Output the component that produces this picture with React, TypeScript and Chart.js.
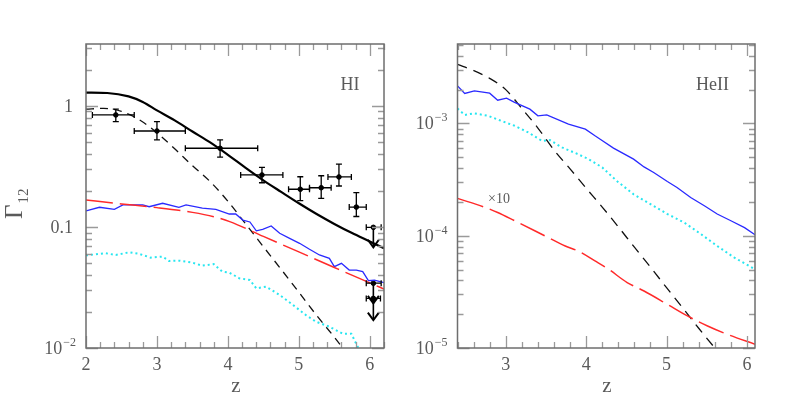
import React, { useEffect, useRef } from 'react';
import { Chart, registerables } from 'chart.js';
Chart.register(...registerables);

// ---------- HI panel data ----------
const hiSolidZ = [2.0, 2.3, 2.6, 2.8, 3.0, 3.25, 3.5, 3.75, 4.0, 4.25, 4.5, 4.75, 5.0, 5.25, 5.5, 5.75, 6.0, 6.2];
const hiSolidV = [1.29, 1.28, 1.2, 1.08, 0.92, 0.76, 0.615, 0.5, 0.395, 0.308, 0.243, 0.195, 0.157, 0.128, 0.106, 0.089, 0.076, 0.0667];

const hiDashZ = [2.0, 2.25, 2.5, 2.75, 3.0, 3.25, 3.5, 3.75, 4.0, 4.25, 4.5, 4.75, 5.0, 5.25, 5.5, 5.75];
const hiDashV = [0.94, 0.955, 0.9, 0.77, 0.6, 0.443, 0.321, 0.237, 0.163, 0.106, 0.0687, 0.0447, 0.0289, 0.0186, 0.0123, 0.0079];

const hiBlueZ = [2.0, 2.19, 2.4, 2.52, 2.8, 2.89, 3.08, 3.31, 3.41, 3.64, 3.83, 4.02, 4.11, 4.21, 4.31, 4.4, 4.49, 4.61, 4.73, 4.87, 5.01, 5.15, 5.29, 5.43, 5.5, 5.6, 5.71, 5.81, 5.9, 5.98, 6.065, 6.2];
const hiBlueV = [0.136, 0.1455, 0.14, 0.152, 0.152, 0.147, 0.157, 0.1455, 0.152, 0.143, 0.14, 0.128, 0.128, 0.114, 0.11, 0.093, 0.0957, 0.102, 0.0887, 0.0806, 0.0733, 0.0654, 0.0587, 0.0551, 0.047, 0.0501, 0.0441, 0.044, 0.0428, 0.036, 0.0363, 0.0347];

const hiRedZ = [2.0, 2.5, 3.0, 3.5, 3.8, 4.025, 4.5, 5.0, 5.5, 6.0, 6.2];
const hiRedV = [0.167, 0.155, 0.1445, 0.132, 0.1216, 0.1107, 0.0836, 0.0622, 0.0463, 0.0345, 0.0307];

const hiCyanZ = [2.0, 2.28, 2.42, 2.61, 2.75, 2.91, 3.08, 3.17, 3.31, 3.5, 3.64, 3.8, 3.92, 4.02, 4.16, 4.31, 4.4, 4.54, 4.73, 4.92, 5.1, 5.24, 5.43, 5.62, 5.74, 5.83, 5.9];
const hiCyanV = [0.0583, 0.0606, 0.0587, 0.0618, 0.06, 0.0558, 0.0569, 0.0524, 0.0527, 0.0507, 0.0479, 0.0494, 0.0428, 0.042, 0.0377, 0.0365, 0.0311, 0.0321, 0.0274, 0.0226, 0.0187, 0.0165, 0.015, 0.0131, 0.0131, 0.0102, 0.0095];

// measurements with error bars
const obsZ = [2.42, 3.0, 3.89, 4.48, 5.02, 5.315, 5.565, 5.81];
const obsV = [0.843, 0.621, 0.447, 0.269, 0.205, 0.211, 0.259, 0.146];
const obsZLo = [2.09, 2.68, 3.4, 4.18, 4.855, 5.15, 5.41, 5.71];
const obsZHi = [2.68, 3.4, 4.42, 4.775, 5.15, 5.455, 5.74, 5.95];
const obsVLo = [0.742, 0.524, 0.377, 0.232, 0.165, 0.172, 0.218, 0.122];
const obsVHi = [0.94, 0.742, 0.524, 0.311, 0.26, 0.265, 0.33, 0.192];

// upper limits
const limZ = [6.05, 6.05, 6.05];
const limV = [0.0993, 0.0343, 0.0257];
const limTo = [0.068, 0.0234, 0.017];
const limZLo = [5.95, 5.95, 5.95];
const limZHi = [6.16, 6.16, 6.15];

// ---------- HeII panel data ----------
const heDashZ = [2.4, 2.6, 2.8, 3.0, 3.2, 3.4, 3.6, 3.8, 4.0, 4.2, 4.4, 4.6, 4.8, 5.0, 5.2, 5.4, 5.6, 5.7];
const heDashV = [3.36e-3, 2.96e-3, 2.52e-3, 2.0e-3, 1.36e-3, 9.1e-4, 5.8e-4, 3.94e-4, 2.65e-4, 1.8e-4, 1.2e-4, 7.9e-5, 5.25e-5, 3.45e-5, 2.28e-5, 1.5e-5, 1.0e-5, 8.2e-6];

const heBlueZ = [2.4, 2.49, 2.61, 2.8, 2.9, 3.01, 3.11, 3.3, 3.4, 3.51, 3.78, 3.99, 4.11, 4.175, 4.34, 4.59, 4.72, 4.84, 5.01, 5.13, 5.3, 5.47, 5.63, 5.8, 5.97, 6.1];
const heBlueV = [2.16e-3, 1.85e-3, 1.95e-3, 1.86e-3, 1.61e-3, 1.68e-3, 1.54e-3, 1.34e-3, 1.17e-3, 1.19e-3, 9.86e-4, 8.89e-4, 7.76e-4, 7.24e-4, 6.03e-4, 4.81e-4, 4.1e-4, 3.66e-4, 3.04e-4, 2.69e-4, 2.19e-4, 1.85e-4, 1.56e-4, 1.36e-4, 1.18e-4, 1.02e-4];

const heCyanZ = [2.4, 2.49, 2.61, 2.78, 2.95, 3.11, 3.28, 3.45, 3.55, 3.7, 3.9, 4.03, 4.2, 4.38, 4.59, 4.8, 5.01, 5.22, 5.43, 5.63, 5.84, 6.1];
const heCyanV = [1.36e-3, 1.19e-3, 1.23e-3, 1.17e-3, 1.05e-3, 9.53e-4, 8.32e-4, 7.0e-4, 7.1e-4, 6.11e-4, 5.32e-4, 4.81e-4, 4.06e-4, 3.08e-4, 2.34e-4, 1.91e-4, 1.56e-4, 1.31e-4, 1.03e-4, 8.1e-5, 6.4e-5, 5.02e-5];

const heRedZ = [2.4, 2.75, 2.9, 3.11, 3.49, 3.74, 3.9, 4.11, 4.28, 4.51, 4.72, 5.01, 5.26, 5.51, 5.76, 6.1];
const heRedV = [2.15e-4, 1.78e-4, 1.61e-4, 1.36e-4, 9.95e-5, 8.1e-5, 7.31e-5, 5.96e-5, 5.02e-5, 3.83e-5, 3.22e-5, 2.45e-5, 1.93e-5, 1.57e-5, 1.32e-5, 1.08e-5];

// ---------- axis ticks / labels ----------
const hiXTicks = [2, 3, 4, 5, 6];
const hiYTicks = [1, 0.1, 0.01];
const hiYLabels = ['1', '0.1', '10^-2'];
const heXTicks = [3, 4, 5, 6];
const heYTicks = [1e-3, 1e-4, 1e-5];
const heYLabels = ['10^-3', '10^-4', '10^-5'];

const FONT = '"Liberation Serif", "DejaVu Serif", serif';
const TEXT = '#5a5a5a';
const FRAME = '#6e6e6e';
const TICK = '#9a9a9a';

const pts = (zs: number[], vs: number[]) => zs.map((z, i) => ({ x: z, y: vs[i] }));

type Extra = {
  xTicks: number[];
  yTicks: number[];
  yLabels: string[];
  texts: { t: string; x: number; y: number; size: number; align: CanvasTextAlign }[];
  gamma?: boolean;
  obs?: boolean;
};

function drawLabel(ctx: CanvasRenderingContext2D, label: string, xRight: number, yMid: number) {
  if (label.startsWith('10^')) {
    const exp = label.slice(3).replace('-', '\u2212');
    ctx.font = `12px ${FONT}`;
    const we = ctx.measureText(exp).width;
    ctx.font = `18px ${FONT}`;
    const wb = ctx.measureText('10').width;
    ctx.textAlign = 'left';
    ctx.textBaseline = 'alphabetic';
    ctx.fillText('10', xRight - we - wb - 1, yMid + 6);
    ctx.font = `12px ${FONT}`;
    ctx.fillText(exp, xRight - we, yMid - 2);
  } else {
    ctx.font = `18px ${FONT}`;
    ctx.textAlign = 'right';
    ctx.textBaseline = 'alphabetic';
    ctx.fillText(label, xRight - 3, yMid + 6);
  }
}

function makePlugin(ex: Extra) {
  return {
    id: 'frameTicks',
    afterDatasetsDraw(chart: any) {
      const { ctx, chartArea: a, scales } = chart;
      const xs = scales.x;
      const ys = scales.y;
      ctx.save();
      // error bars and upper limits
      if (ex.obs) {
        ctx.strokeStyle = '#000';
        ctx.lineWidth = 1.3;
        const cap = 3;
        obsZ.forEach((z, i) => {
          const px = xs.getPixelForValue(z);
          const py = ys.getPixelForValue(obsV[i]);
          const x0 = xs.getPixelForValue(obsZLo[i]);
          const x1 = xs.getPixelForValue(obsZHi[i]);
          const y0 = ys.getPixelForValue(obsVLo[i]);
          const y1 = ys.getPixelForValue(obsVHi[i]);
          ctx.beginPath();
          ctx.moveTo(x0, py); ctx.lineTo(x1, py);
          ctx.moveTo(x0, py - cap); ctx.lineTo(x0, py + cap);
          ctx.moveTo(x1, py - cap); ctx.lineTo(x1, py + cap);
          ctx.moveTo(px, y0); ctx.lineTo(px, y1);
          ctx.moveTo(px - cap, y0); ctx.lineTo(px + cap, y0);
          ctx.moveTo(px - cap, y1); ctx.lineTo(px + cap, y1);
          ctx.stroke();
        });
        limZ.forEach((z, i) => {
          const px = xs.getPixelForValue(z);
          const py = ys.getPixelForValue(limV[i]);
          const x0 = xs.getPixelForValue(limZLo[i]);
          const x1 = xs.getPixelForValue(limZHi[i]);
          const ty = ys.getPixelForValue(limTo[i]);
          ctx.lineWidth = 1.3;
          ctx.beginPath();
          ctx.moveTo(x0, py); ctx.lineTo(x1, py);
          ctx.moveTo(x0, py - cap); ctx.lineTo(x0, py + cap);
          ctx.moveTo(x1, py - cap); ctx.lineTo(x1, py + cap);
          ctx.stroke();
          ctx.lineWidth = 1.6;
          ctx.beginPath();
          ctx.moveTo(px, py); ctx.lineTo(px, ty);
          ctx.stroke();
          ctx.lineWidth = 2;
          ctx.beginPath();
          ctx.moveTo(px - 5.5, ty - 7.5); ctx.lineTo(px, ty); ctx.lineTo(px + 5.5, ty - 7.5);
          ctx.stroke();
        });
      }
      // ticks
      ctx.strokeStyle = TICK;
      ctx.lineWidth = 1.3;
      ctx.beginPath();
      const step = 0.2;
      for (let k = Math.ceil(xs.min / step - 1e-6); k * step <= xs.max + 1e-6; k++) {
        const v = k * step;
        const major = Math.abs(v - Math.round(v)) < 1e-6;
        const len = major ? 12 : 6;
        const px = Math.round(xs.getPixelForValue(v)) + 0.5;
        ctx.moveTo(px, a.bottom); ctx.lineTo(px, a.bottom - len);
        ctx.moveTo(px, a.top); ctx.lineTo(px, a.top + len);
      }
      const d0 = Math.floor(Math.log10(ys.min)) - 1;
      const d1 = Math.ceil(Math.log10(ys.max)) + 1;
      for (let d = d0; d <= d1; d++) {
        for (let m = 1; m <= 9; m++) {
          const v = m * Math.pow(10, d);
          if (v < ys.min * 0.999 || v > ys.max * 1.001) continue;
          const len = m === 1 ? 12 : 6;
          const py = Math.round(ys.getPixelForValue(v)) + 0.5;
          ctx.moveTo(a.left, py); ctx.lineTo(a.left + len, py);
          ctx.moveTo(a.right, py); ctx.lineTo(a.right - len, py);
        }
      }
      ctx.stroke();
      // frame
      ctx.strokeStyle = FRAME;
      ctx.lineWidth = 1.5;
      ctx.strokeRect(a.left, a.top, a.right - a.left, a.bottom - a.top);
      // tick labels
      ctx.fillStyle = TEXT;
      ex.xTicks.forEach((v) => {
        ctx.font = `18px ${FONT}`;
        ctx.textAlign = 'center';
        ctx.textBaseline = 'alphabetic';
        ctx.fillText(String(v), xs.getPixelForValue(v), a.bottom + 22);
      });
      ex.yTicks.forEach((v, i) => {
        drawLabel(ctx, ex.yLabels[i], a.left - 10, ys.getPixelForValue(v));
      });
      // free texts
      ex.texts.forEach((t) => {
        ctx.font = `${t.size}px ${FONT}`;
        ctx.textAlign = t.align;
        ctx.textBaseline = 'alphabetic';
        ctx.fillText(t.t, t.x, t.y);
      });
      if (ex.gamma) {
        ctx.save();
        ctx.translate(22, 219);
        ctx.rotate(-Math.PI / 2);
        ctx.font = `25px ${FONT}`;
        ctx.textAlign = 'left';
        ctx.fillText('\u0393', 0, 0);
        const w = ctx.measureText('\u0393').width;
        ctx.font = `15px ${FONT}`;
        ctx.fillText('12', w + 1, 6);
        ctx.restore();
      }
      ctx.restore();
    },
  };
}

function Panel(props: { left: number; width: number; config: () => any }) {
  const ref = useRef<HTMLCanvasElement>(null);
  useEffect(() => {
    const chart = new Chart(ref.current as HTMLCanvasElement, props.config());
    return () => chart.destroy();
  }, []);
  return (
    <canvas
      ref={ref}
      width={props.width}
      height={399}
      style={{ position: 'absolute', left: props.left, top: 0, width: props.width, height: 399 }}
    />
  );
}

const baseOpts = (xmin: number, xmax: number, ymin: number, ymax: number, pad: any) => ({
  responsive: false,
  animation: false,
  layout: { padding: pad },
  plugins: { legend: { display: false }, tooltip: { enabled: false } },
  elements: { point: { radius: 0 } },
  scales: {
    x: { type: 'linear', min: xmin, max: xmax, display: false },
    y: { type: 'logarithmic', min: ymin, max: ymax, display: false },
  },
});

const line = (data: any[], color: string, width: number, dash: number[], smooth = false) => ({
  type: 'line',
  data,
  borderColor: color,
  borderWidth: width,
  borderDash: dash,
  pointRadius: 0,
  fill: false,
  tension: smooth ? 0.4 : 0,
  cubicInterpolationMode: smooth ? 'monotone' : 'default',
});

const hiConfig = () => ({
  type: 'line',
  data: {
    datasets: [
      line(pts(hiCyanZ, hiCyanV), 'rgb(40,230,240)', 2, [2, 3]),
      line(pts(hiRedZ, hiRedV), '#ff2a2a', 1.5, [27, 7], true),
      line(pts(hiBlueZ, hiBlueV), '#2a2aff', 1.3, []),
      line(pts(hiDashZ, hiDashV), '#111', 1.3, [8, 6], true),
      line(pts(hiSolidZ, hiSolidV), '#000', 2.2, [], true),
      {
        type: 'scatter',
        data: pts(obsZ, obsV).concat(pts(limZ, limV)),
        pointRadius: 2.3,
        pointBackgroundColor: '#000',
        pointBorderColor: '#000',
        showLine: false,
      },
    ],
  },
  options: baseOpts(2, 6.2, 0.01, 3.25, { left: 86, right: 16, top: 44, bottom: 51 }),
  plugins: [
    makePlugin({
      xTicks: hiXTicks,
      yTicks: hiYTicks,
      yLabels: hiYLabels,
      obs: true,
      gamma: true,
      texts: [
        { t: 'HI', x: 350, y: 90, size: 18, align: 'center' },
        { t: 'z', x: 236, y: 392, size: 21, align: 'center' },
      ],
    }),
  ],
});

const heConfig = () => ({
  type: 'line',
  data: {
    datasets: [
      line(pts(heCyanZ, heCyanV), 'rgb(40,230,240)', 2, [2, 3]),
      line(pts(heRedZ, heRedV), '#ff2a2a', 1.5, [27, 7], true),
      line(pts(heBlueZ, heBlueV), '#2a2aff', 1.3, []),
      line(pts(heDashZ, heDashV), '#111', 1.3, [10, 7], true),
    ],
  },
  options: baseOpts(2.4, 6.1, 1e-5, 5.1e-3, { left: 57.5, right: 42, top: 44, bottom: 51 }),
  plugins: [
    makePlugin({
      xTicks: heXTicks,
      yTicks: heYTicks,
      yLabels: heYLabels,
      texts: [
        { t: 'HeII', x: 296, y: 90, size: 18, align: 'left' },
        { t: '\u00d710', x: 88, y: 203, size: 14, align: 'left' },
        { t: 'z', x: 207, y: 392, size: 21, align: 'center' },
      ],
    }),
  ],
});

export default function App() {
  return (
    <div style={{ position: 'absolute', left: 0, top: 0, width: 797, height: 399, background: '#fff' }}>
      <Panel left={0} width={400} config={hiConfig} />
      <Panel left={400} width={397} config={heConfig} />
    </div>
  );
}
